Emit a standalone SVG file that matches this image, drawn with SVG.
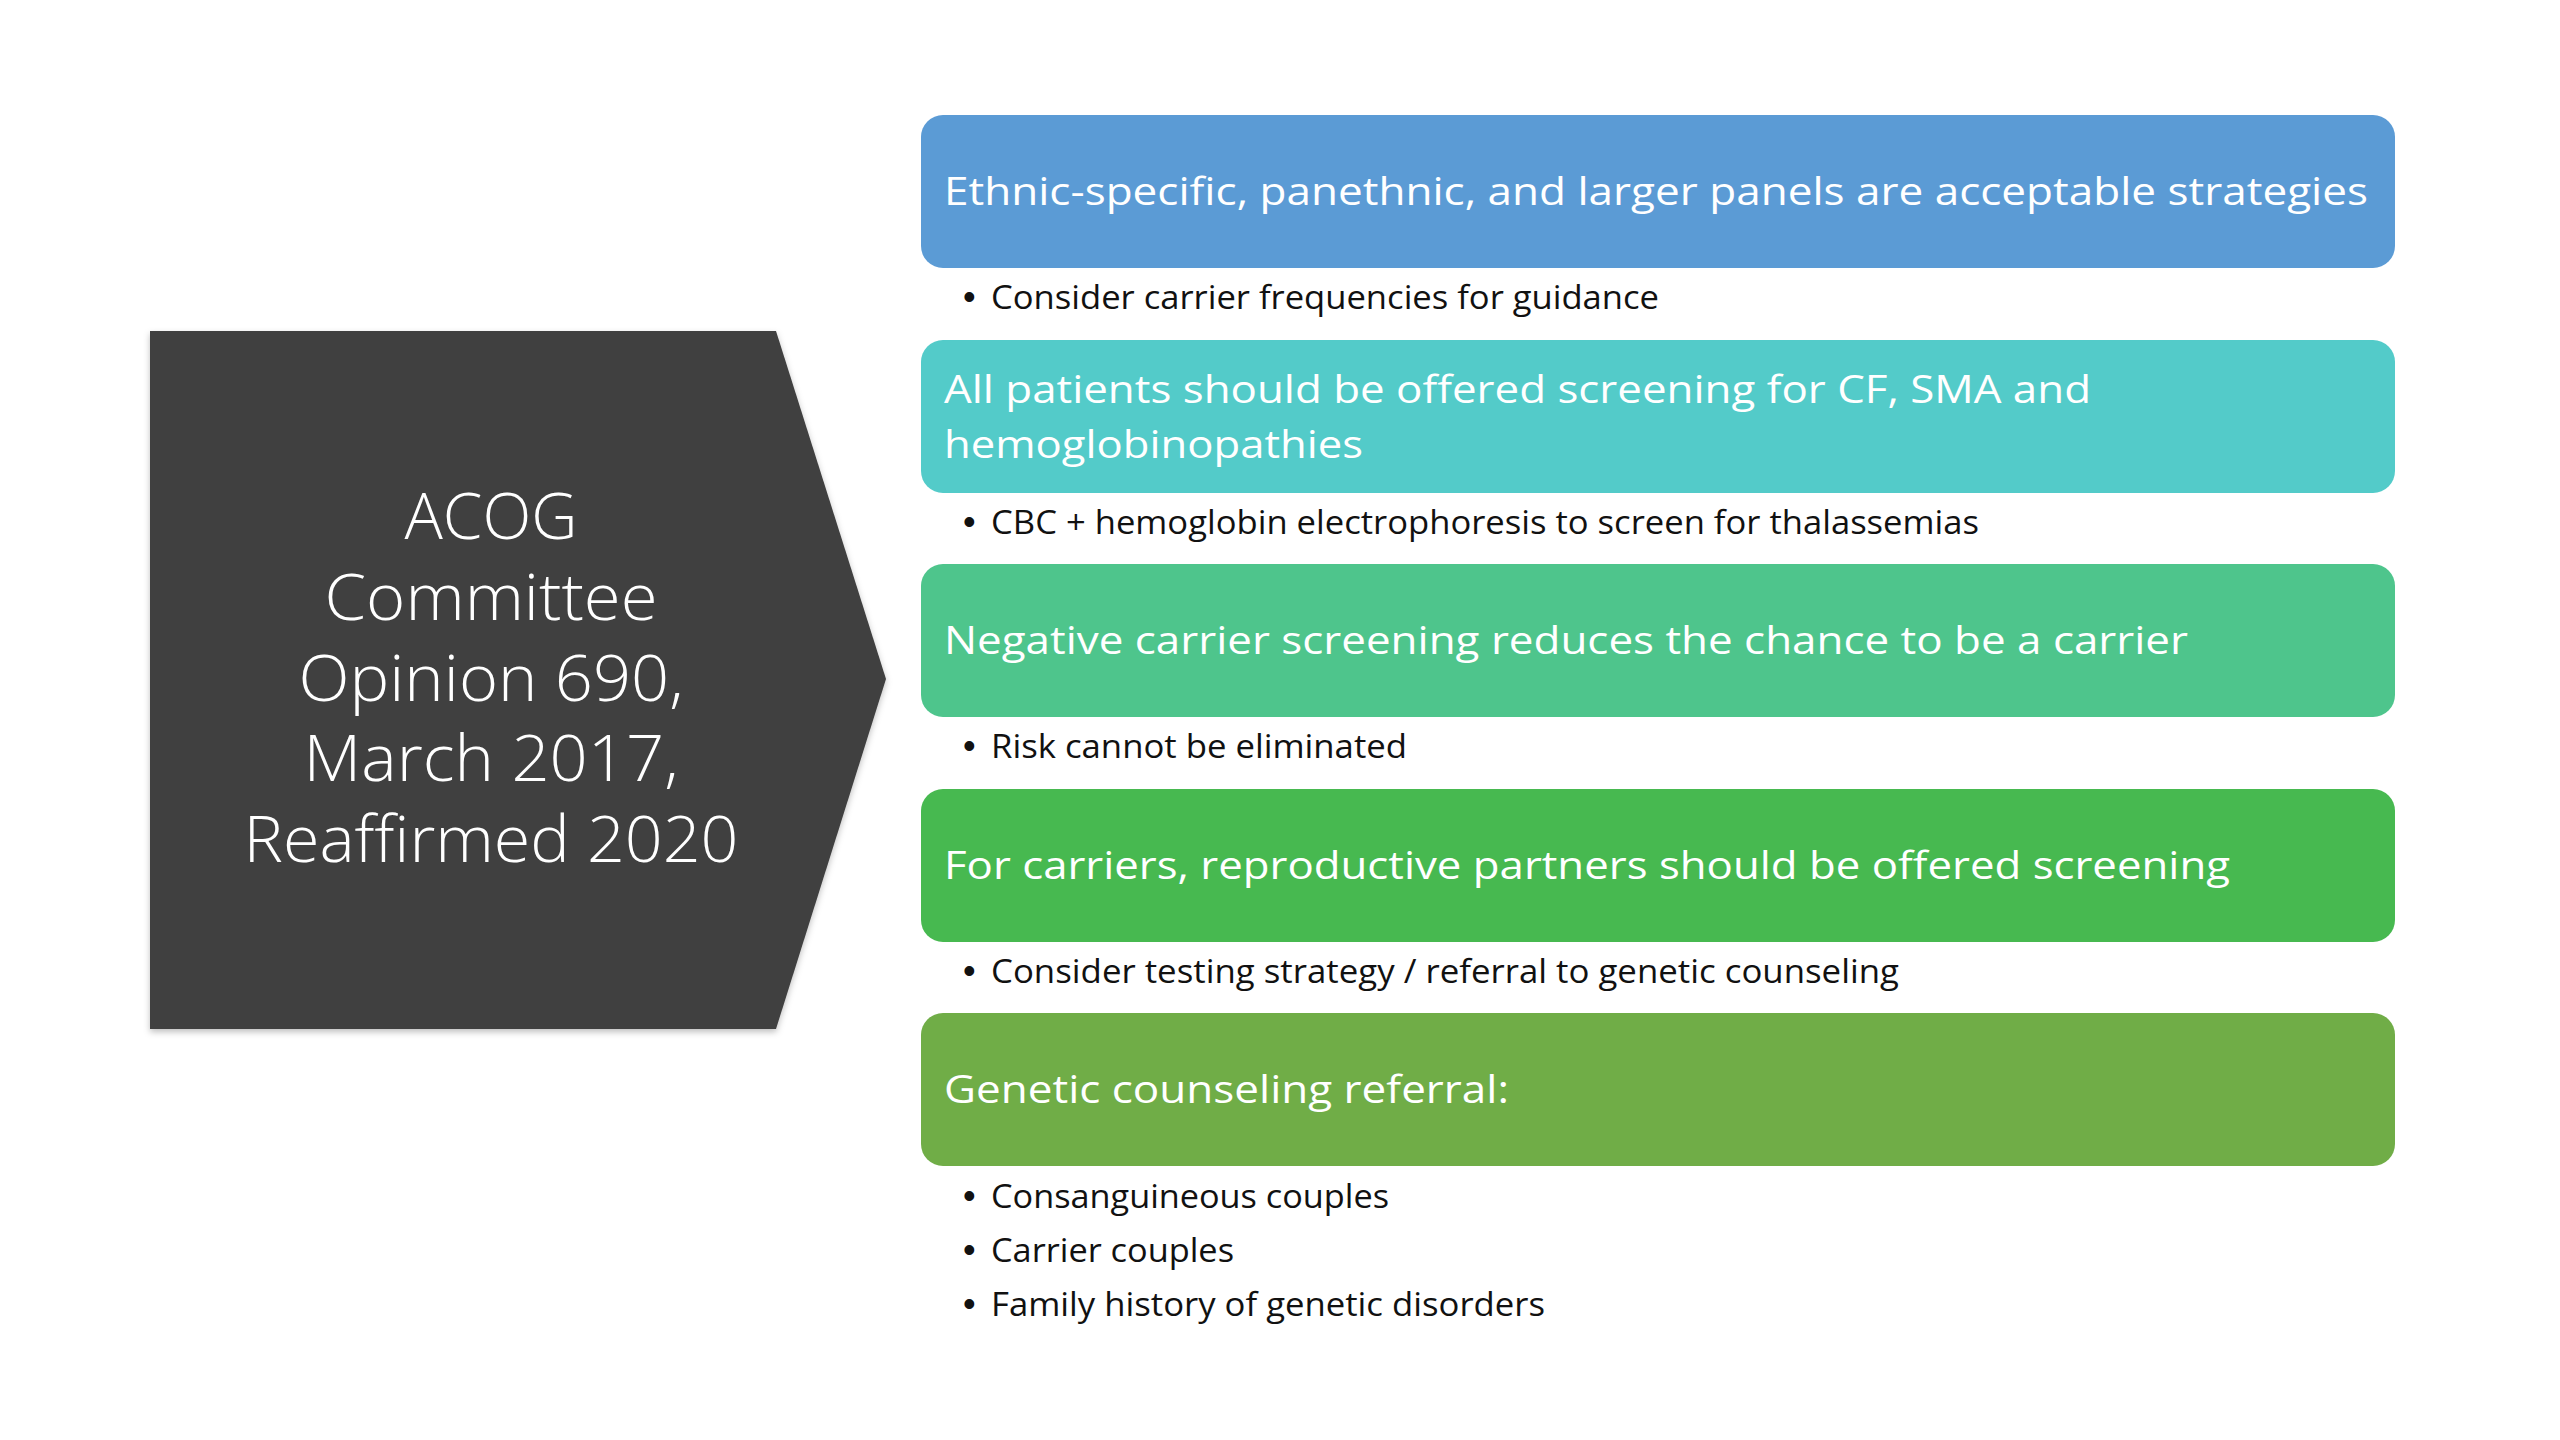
<svg xmlns="http://www.w3.org/2000/svg" width="2560" height="1440" viewBox="0 0 2560 1440">
<defs>
<style>
.box{stroke:none}
.bt{font-family:"Open Sans","Noto Sans",sans-serif;font-size:39px;fill:#ffffff}
.bl{font-family:"Open Sans","Noto Sans",sans-serif;font-size:33px;fill:#111111}
.dot{font-family:"Liberation Sans","DejaVu Sans",sans-serif;font-size:36px;fill:#111111}
.lt{font-family:"Open Sans","Noto Sans",sans-serif;font-weight:300;font-size:64px;fill:#ffffff;text-anchor:middle}
</style>
<filter id="sh" x="-5%" y="-5%" width="110%" height="115%">
<feDropShadow dx="0" dy="3" stdDeviation="3" flood-color="#000" flood-opacity="0.25"/>
</filter>
</defs>
<rect width="2560" height="1440" fill="#ffffff"/>
<g id="acog">
<polygon points="150,331 776,331 886,679 776,1029 150,1029" fill="#404040" filter="url(#sh)"/>
<text class="lt" x="491" y="539" textLength="173" lengthAdjust="spacingAndGlyphs">ACOG</text>
<text class="lt" x="491" y="620" textLength="333" lengthAdjust="spacingAndGlyphs">Committee</text>
<text class="lt" x="491" y="701" textLength="385" lengthAdjust="spacingAndGlyphs">Opinion 690,</text>
<text class="lt" x="491" y="781" textLength="375" lengthAdjust="spacingAndGlyphs">March 2017,</text>
<text class="lt" x="491" y="862" textLength="495" lengthAdjust="spacingAndGlyphs">Reaffirmed 2020</text>
</g>
<g id="box1">
<rect class="box" x="921" y="115" width="1474" height="153" rx="22" fill="#5B9BD5"/>
<text class="bt" x="944" y="205" textLength="1424" lengthAdjust="spacingAndGlyphs">Ethnic-specific, panethnic, and larger panels are acceptable strategies</text>
</g>
<g id="note1">
<text class="dot" x="963" y="309">•</text>
<text class="bl" x="991" y="309" textLength="668" lengthAdjust="spacingAndGlyphs">Consider carrier frequencies for guidance</text>
</g>
<g id="box2">
<rect class="box" x="921" y="340" width="1474" height="153" rx="22" fill="#53CBC9"/>
<text class="bt" x="944" y="403" textLength="1147" lengthAdjust="spacingAndGlyphs">All patients should be offered screening for CF, SMA and</text>
<text class="bt" x="944" y="458" textLength="419" lengthAdjust="spacingAndGlyphs">hemoglobinopathies</text>
</g>
<g id="note2">
<text class="dot" x="963" y="534">•</text>
<text class="bl" x="991" y="534" textLength="988" lengthAdjust="spacingAndGlyphs">CBC + hemoglobin electrophoresis to screen for thalassemias</text>
</g>
<g id="box3">
<rect class="box" x="921" y="564" width="1474" height="153" rx="22" fill="#4EC58C"/>
<text class="bt" x="944" y="654" textLength="1244" lengthAdjust="spacingAndGlyphs">Negative carrier screening reduces the chance to be a carrier</text>
</g>
<g id="note3">
<text class="dot" x="963" y="758">•</text>
<text class="bl" x="991" y="758" textLength="416" lengthAdjust="spacingAndGlyphs">Risk cannot be eliminated</text>
</g>
<g id="box4">
<rect class="box" x="921" y="789" width="1474" height="153" rx="22" fill="#47B950"/>
<text class="bt" x="944" y="879" textLength="1286" lengthAdjust="spacingAndGlyphs">For carriers, reproductive partners should be offered screening</text>
</g>
<g id="note4">
<text class="dot" x="963" y="983">•</text>
<text class="bl" x="991" y="983" textLength="908" lengthAdjust="spacingAndGlyphs">Consider testing strategy / referral to genetic counseling</text>
</g>
<g id="box5">
<rect class="box" x="921" y="1013" width="1474" height="153" rx="22" fill="#70AD47"/>
<text class="bt" x="944" y="1103" textLength="565" lengthAdjust="spacingAndGlyphs">Genetic counseling referral:</text>
</g>
<g id="note5">
<text class="dot" x="963" y="1208">•</text>
<text class="bl" x="991" y="1208" textLength="398" lengthAdjust="spacingAndGlyphs">Consanguineous couples</text>
<text class="dot" x="963" y="1262">•</text>
<text class="bl" x="991" y="1262" textLength="243" lengthAdjust="spacingAndGlyphs">Carrier couples</text>
<text class="dot" x="963" y="1316">•</text>
<text class="bl" x="991" y="1316" textLength="554" lengthAdjust="spacingAndGlyphs">Family history of genetic disorders</text>
</g>
<g id="connectors"></g>
</svg>
